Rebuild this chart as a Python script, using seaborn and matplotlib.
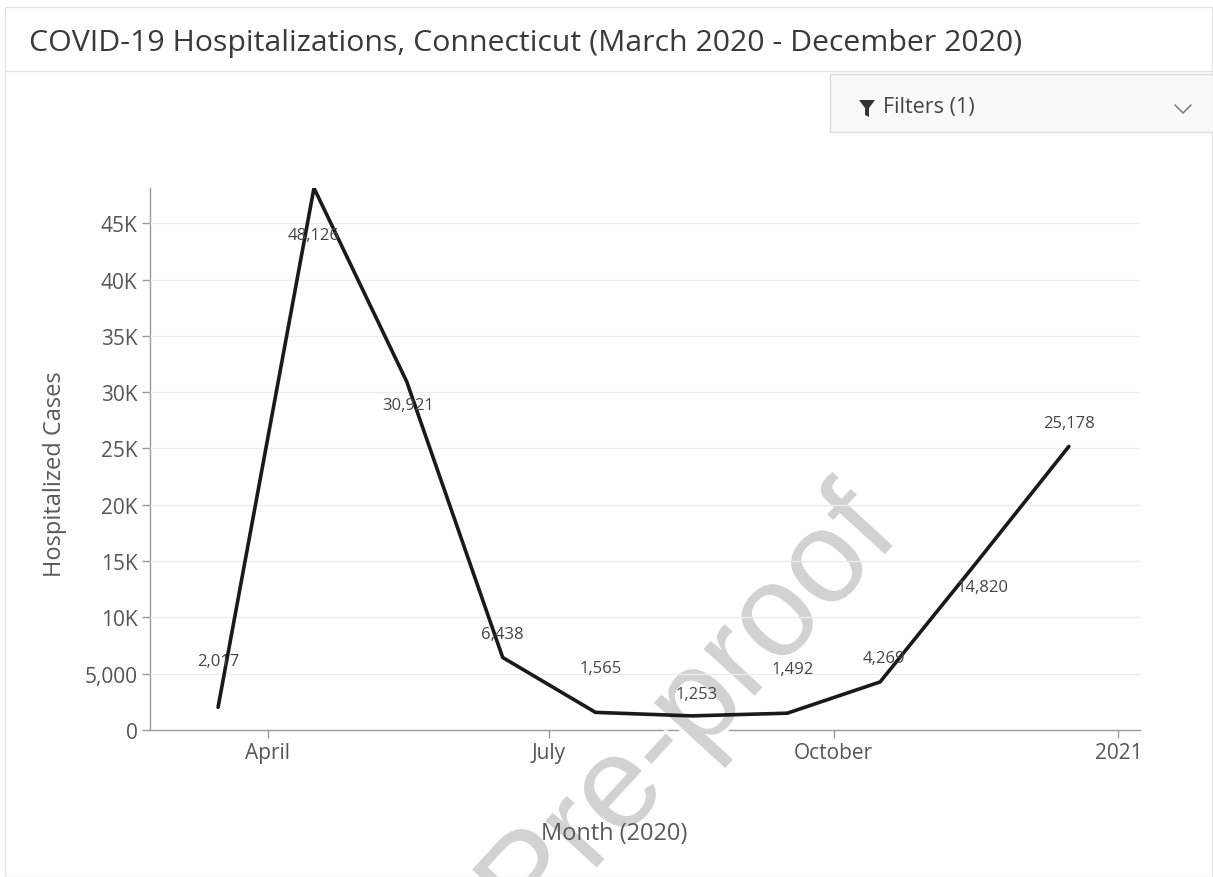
import matplotlib
matplotlib.use("Agg")
import matplotlib.pyplot as plt
import matplotlib.patheffects as pe
from matplotlib.ticker import FuncFormatter
from matplotlib.patches import Rectangle, Polygon
import seaborn as sns
import pandas as pd

# Monthly hospitalized cases, Connecticut 2020
months = ["2020-03-16", "2020-04-16", "2020-05-16", "2020-06-16", "2020-07-16",
          "2020-08-16", "2020-09-16", "2020-10-16", "2020-11-16", "2020-12-16"]
cases = [2017, 48126, 30921, 6438, 1565, 1253, 1492, 4269, 14820, 25178]

tick_dates = ["2020-04-01", "2020-07-01", "2020-10-01", "2021-01-01"]
tick_labels = ["April", "July", "October", "2021"]
y_ticks = [0, 5000, 10000, 15000, 20000, 25000, 30000, 35000, 40000, 45000]

# label offsets (points) relative to each data point
label_offsets = [(0, 33), (0, -34), (1, -17), (0, 17), (4, 32),
                 (4, 16), (4, 32), (3, 17), (5, -17), (0, 17)]

df = pd.DataFrame({"month": pd.to_datetime(months), "cases": cases})

sns.set_theme(style="white")
plt.rcParams["font.family"] = ["Open Sans", "DejaVu Sans"]

W, H = 1213, 878
fig = plt.figure(figsize=(W / 100, H / 100), dpi=100)
fig.patch.set_facecolor("white")


def fx(px):
    return px / W


def fy(py):
    return 1 - py / H


# card frame, title separator and filter box
fig.add_artist(Rectangle((fx(5), 0), 1 - fx(6), fy(8), transform=fig.transFigure,
                         fill=False, edgecolor="#e4e4e4", linewidth=1))
fig.add_artist(plt.Line2D([fx(5), 1], [fy(72), fy(72)], transform=fig.transFigure,
                          color="#e4e4e4", linewidth=1))
fig.add_artist(Rectangle((fx(830), fy(133)), 1 - fx(830), 58 / H, transform=fig.transFigure,
                         facecolor="#f9f9f9", edgecolor="#dcdcdc", linewidth=1))
fig.text(fx(29), fy(43), "COVID-19 Hospitalizations, Connecticut (March 2020 - December 2020)",
         fontsize=21.8, color="#3a3a3a", va="center", ha="left")
# funnel icon
fig.add_artist(Polygon([(fx(859), fy(101)), (fx(875), fy(101)), (fx(869), fy(109)),
                        (fx(869), fy(118)), (fx(865), fy(116)), (fx(865), fy(109))],
                       closed=True, transform=fig.transFigure, facecolor="#333333",
                       edgecolor="none"))
fig.text(fx(883), fy(108), "Filters (1)", fontsize=15.5, color="#444444",
         va="center", ha="left")
# dropdown chevron
fig.add_artist(plt.Line2D([fx(1175), fx(1183), fx(1191)], [fy(106), fy(114), fy(106)],
                          transform=fig.transFigure, color="#777777", linewidth=1.1))

ax = fig.add_axes([fx(150), fy(731), (1140 - 150) / W, (731 - 189) / H])

sns.lineplot(data=df, x="month", y="cases", ax=ax, color="#1a1a1a",
             linewidth=2.6, zorder=4)

ax.set_xlim(pd.Timestamp("2020-02-23"), pd.Timestamp("2021-01-08"))
ax.set_ylim(0, max(cases))

ax.set_xticks(pd.to_datetime(tick_dates))
ax.set_xticklabels(tick_labels)
ax.set_yticks(y_ticks)
ax.yaxis.set_major_formatter(FuncFormatter(
    lambda v, p: "0" if v == 0 else (f"{v:,.0f}" if v < 10000 else f"{v / 1000:.0f}K")))

ax.grid(axis="y", color="#ececec", linewidth=1)
ax.set_axisbelow(True)
for side in ["top", "right"]:
    ax.spines[side].set_visible(False)
for side in ["left", "bottom"]:
    ax.spines[side].set_color("#9a9a9a")
    ax.spines[side].set_linewidth(1)
ax.tick_params(axis="both", which="major", length=6, width=1, color="#9a9a9a",
               labelsize=15, labelcolor="#555555", bottom=True, left=True, pad=3)

ax.set_xlabel("Month (2020)", fontsize=17, color="#5a5a5a")
ax.set_ylabel("Hospitalized Cases", fontsize=17, color="#5a5a5a")
ax.xaxis.set_label_coords(0.469, -0.168)
ax.yaxis.set_label_coords(-0.084, 0.474)
# tick labels and axis titles sit above the watermark; grid stays below
ax.xaxis.set_zorder(3.5)
ax.yaxis.set_zorder(3.5)

for (d, v), (dx, dy) in zip(zip(df["month"], df["cases"]), label_offsets):
    ax.annotate(f"{v:,}", (d, v), xytext=(dx, dy), textcoords="offset points",
                ha="center", va="center", fontsize=12, color="#444444", zorder=5)

# watermark: above grid and spines, below the data line
ax.text(fx(691), fy(715), "Pre-proof", transform=fig.transFigure, clip_on=False,
        family=["Liberation Sans", "DejaVu Sans"], fontsize=94.5, color="#d2d2d2",
        rotation=47.4, ha="center", va="center", zorder=3,
        path_effects=[pe.withStroke(linewidth=5, foreground="white")])

fig.savefig("out.png", dpi=100)
